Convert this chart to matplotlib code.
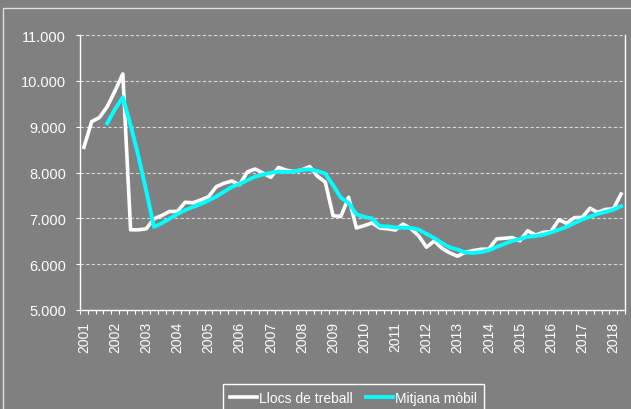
import matplotlib
matplotlib.use('Agg')
import matplotlib.pyplot as plt
from matplotlib.patches import Rectangle
from matplotlib.ticker import FuncFormatter, FixedLocator

plt.rcParams['font.family'] = ['Liberation Sans', 'DejaVu Sans']

# quarterly series, 2001Q1 - 2018Q2
years = list(range(2001, 2019))
llocs = [8550, 9110, 9200, 9440, 9780, 10150, 6750, 6750, 6770, 6990,
         7060, 7150, 7150, 7350, 7340, 7400, 7470, 7690, 7765, 7815,
         7735, 8015, 8075, 7990, 7895, 8110, 8050, 8020, 8060, 8130,
         7920, 7790, 7060, 7040, 7460, 6790, 6840, 6900, 6790, 6770,
         6745, 6875, 6775, 6620, 6370, 6505, 6345, 6245, 6175, 6260,
         6295, 6325, 6330, 6550, 6565, 6580, 6510, 6730, 6635, 6695,
         6710, 6970, 6890, 7015, 7020, 7220, 7130, 7195, 7205, 7530]
# moving average starts at 2001Q4
mitjana = [9075, 9382, 9642, 9030, 8358, 7605, 6815, 6892, 6992,
           7088, 7178, 7248, 7310, 7390, 7475, 7581, 7685, 7751, 7832,
           7910, 7954, 7994, 8018, 8011, 8019, 8060, 8065, 8032, 7975,
           7725, 7452, 7338, 7088, 7032, 6998, 6830, 6825, 6801, 6795,
           6791, 6754, 6660, 6568, 6460, 6366, 6318, 6256, 6244, 6264,
           6302, 6375, 6442, 6506, 6551, 6596, 6614, 6642, 6692, 6752,
           6816, 6896, 6974, 7036, 7096, 7141, 7188, 7265]

bg = '#808080'
W, H = 631, 410
fig = plt.figure(figsize=(W / 100, H / 100), dpi=100, facecolor=bg)
ax = fig.add_axes([80 / W, 1 - 311 / H, 545 / W, 275 / H], facecolor=bg)

# outer frame
fig.patches.append(Rectangle((3 / W, -0.1), 1.2, 1.1 - 9 / H, transform=fig.transFigure,
                             fill=False, edgecolor='#e0e0e0', linewidth=1.0))

x = list(range(len(llocs)))
xm = list(range(3, len(llocs)))
ax.plot(x, llocs, color='white', lw=2.6, solid_joinstyle='round', label='Llocs de treball')
ax.plot(xm, mitjana, color='#00ffff', lw=2.8, solid_joinstyle='round', label='Mitjana mòbil')

ax.set_xlim(-0.5, len(llocs) - 0.5)
ax.set_ylim(5000, 11000)
ax.set_yticks(range(5000, 11001, 1000))
ax.yaxis.set_major_formatter(FuncFormatter(lambda v, p: f'{v:,.0f}'.replace(',', '.')))
ax.grid(axis='y', color='#d8d8d8', linestyle=(0, (3, 2)), linewidth=0.8)
ax.set_axisbelow(True)

ax.set_xticks([i * 4 for i in range(len(years))])
ax.set_xticklabels([str(y) for y in years], rotation=90)
ax.xaxis.set_minor_locator(FixedLocator([i - 0.5 for i in range(len(llocs) + 1)]))

ax.tick_params(axis='x', which='major', length=0, pad=8, labelsize=10, colors='white')
ax.tick_params(axis='x', which='minor', length=3, width=0.8, color='white')
ax.tick_params(axis='y', length=3, width=0.8, pad=7, labelsize=10.5, colors='white')

for s in ['left', 'bottom', 'right']:
    ax.spines[s].set_color('white')
    ax.spines[s].set_linewidth(1.0)
ax.spines['top'].set_visible(False)

leg = fig.legend(loc='upper center', bbox_to_anchor=(353.5 / W, 1 - 385 / H), ncol=2,
                 fontsize=10, frameon=True, fancybox=False, facecolor=bg, edgecolor='white',
                 labelcolor='white', handlelength=1.9, handletextpad=0.15, columnspacing=1.0,
                 borderpad=0.5, borderaxespad=0, framealpha=1)
leg.get_frame().set_linewidth(1.0)

fig.savefig('out.png', dpi=100, facecolor=bg)
